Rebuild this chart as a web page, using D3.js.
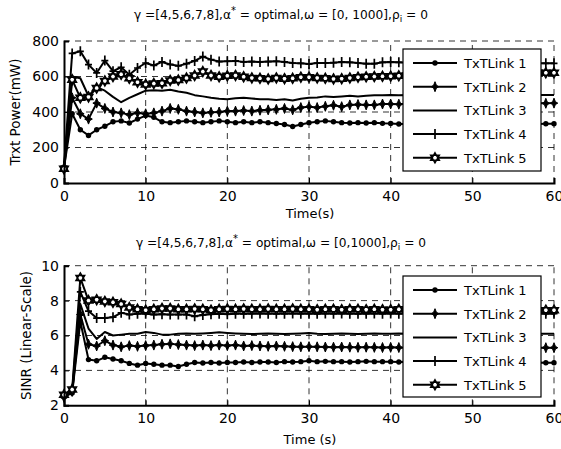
<!DOCTYPE html>
<html><head><meta charset="utf-8">
<script src="https://cdn.jsdelivr.net/npm/d3@7"></script>
<style>
body{margin:0;background:#fff;}
text{font-family:"DejaVu Sans",sans-serif;fill:#000;}
</style></head>
<body>
<script>
const time = d3.range(0, 61);
const seriesNames = ["TxTLink 1","TxTLink 2","TxTLink 3","TxTLink 4","TxTLink 5"];
const powerTicks = [0,200,400,600,800];
const sinrTicks = [2,4,6,8,10];
const timeTicks = [0,10,20,30,40,50,60];

const power1 = [85,390,300,268,300,320,345,350,338,360,380,370,345,340,345,350,345,340,345,350,345,340,345,340,345,340,335,330,318,330,340,345,350,345,340,338,340,338,340,336,335,332,332,334,332,330,332,334,332,330,332,330,332,334,332,330,332,334,332,334,334];
const power2 = [80,480,390,360,450,420,400,395,385,395,390,395,405,420,415,405,400,395,398,400,405,405,408,405,410,412,415,420,412,425,430,425,432,438,430,440,442,440,440,445,445,444,446,445,447,446,447,446,448,447,448,447,448,449,448,449,448,449,450,449,450];
const power3 = [90,600,590,490,540,520,485,455,480,500,520,522,520,525,515,508,495,488,480,475,472,478,480,476,472,472,468,472,465,475,480,482,488,485,488,492,488,492,494,495,496,495,496,494,495,496,494,495,496,495,496,495,494,495,496,495,496,495,496,496,496];
const power4 = [95,730,742,667,620,690,630,652,610,648,676,662,682,668,660,672,688,712,695,684,686,688,682,684,682,684,686,682,676,674,670,676,676,678,682,680,676,672,672,680,682,680,678,680,679,678,680,679,678,677,678,677,676,677,676,675,676,675,674,674,674];
const power5 = [80,582,480,485,535,575,600,612,590,568,555,560,562,578,580,591,605,628,606,598,604,606,598,592,590,586,592,588,590,596,596,592,590,586,588,592,596,598,600,601,602,604,606,606,608,608,610,610,612,612,614,614,616,616,618,618,620,620,621,621,621];

const sinr1 = [2.5,2.7,6.8,4.62,4.55,4.75,4.65,4.55,4.4,4.3,4.4,4.35,4.3,4.3,4.22,4.35,4.45,4.42,4.45,4.42,4.45,4.45,4.48,4.45,4.48,4.48,4.45,4.5,4.48,4.5,4.55,4.5,4.52,4.5,4.5,4.48,4.5,4.52,4.5,4.5,4.5,4.48,4.5,4.47,4.48,4.46,4.47,4.46,4.45,4.46,4.45,4.46,4.45,4.44,4.45,4.44,4.45,4.44,4.45,4.44,4.44];
const sinr2 = [2.45,2.8,7.2,5.5,5.4,5.7,5.45,5.35,5.42,5.38,5.42,5.45,5.5,5.52,5.48,5.45,5.42,5.45,5.42,5.45,5.42,5.45,5.4,5.42,5.4,5.38,5.4,5.38,5.36,5.35,5.36,5.35,5.34,5.33,5.34,5.33,5.32,5.33,5.32,5.31,5.32,5.31,5.3,5.31,5.3,5.31,5.3,5.31,5.3,5.3,5.31,5.3,5.3,5.31,5.3,5.3,5.31,5.3,5.3,5.3,5.3];
const sinr3 = [2.55,2.7,7.8,6.4,5.8,6.2,6.0,6.05,6.1,6.1,6.2,6.15,6.05,6.05,6.1,6.12,6.1,6.12,6.15,6.18,6.15,6.12,6.1,6.08,6.1,6.12,6.1,6.08,6.1,6.12,6.15,6.1,6.08,6.1,6.12,6.1,6.08,6.1,6.12,6.1,6.1,6.12,6.1,6.1,6.12,6.1,6.1,6.11,6.1,6.1,6.11,6.1,6.1,6.1,6.11,6.1,6.1,6.1,6.1,6.1,6.1];
const sinr4 = [2.5,2.8,8.5,7.4,7.0,7.0,7.05,7.3,7.2,7.25,7.25,7.2,7.22,7.2,7.2,7.2,7.1,7.18,7.22,7.25,7.22,7.25,7.24,7.25,7.26,7.25,7.24,7.25,7.26,7.25,7.25,7.24,7.26,7.25,7.26,7.25,7.24,7.25,7.26,7.25,7.26,7.25,7.25,7.26,7.25,7.25,7.26,7.25,7.25,7.26,7.25,7.25,7.26,7.25,7.25,7.26,7.25,7.25,7.25,7.25,7.25];
const sinr5 = [2.6,2.9,9.3,8.0,8.05,7.95,7.9,7.8,7.6,7.5,7.45,7.5,7.55,7.55,7.5,7.5,7.52,7.5,7.45,7.5,7.52,7.5,7.52,7.5,7.5,7.52,7.5,7.5,7.52,7.5,7.5,7.48,7.5,7.5,7.48,7.5,7.5,7.48,7.5,7.48,7.48,7.5,7.48,7.48,7.47,7.48,7.47,7.46,7.47,7.46,7.46,7.47,7.46,7.45,7.46,7.45,7.45,7.46,7.45,7.45,7.45];

const W = 561, H = 449;
const svg = d3.select("body").append("svg").attr("width", W).attr("height", H);

const markerPaths = {
  diamond: "M0,-5L1.4,-1.4L3.8,0L1.4,1.4L0,5L-1.4,1.4L-3.8,0L-1.4,-1.4Z",
  plus: "M0,-5V5M-3.5,0H3.5",
  hex: (function(){ const r=5; let a=[]; for(let i=0;i<3;i++){const t=-Math.PI/2+i*2*Math.PI/3;a.push([r*Math.cos(t),r*Math.sin(t)]);} let b=[]; for(let i=0;i<3;i++){const t=Math.PI/2+i*2*Math.PI/3;b.push([r*Math.cos(t),r*Math.sin(t)]);} return "M"+a.join("L")+"Z M"+b.join("L")+"Z"; })()
};
const markerTypes = ["dot","diamond",null,"plus","hex"];

function drawMarker(g, type, x, y) {
  if (!type) return;
  if (type === "dot") {
    g.append("circle").attr("cx", x).attr("cy", y).attr("r", 2.7).attr("fill", "#000");
  } else if (type === "diamond") {
    g.append("path").attr("d", markerPaths.diamond).attr("transform", `translate(${x},${y})`).attr("fill", "#000").attr("stroke", "#000").attr("stroke-width", 1);
  } else if (type === "plus") {
    g.append("path").attr("d", markerPaths.plus).attr("transform", `translate(${x},${y})`).attr("fill", "none").attr("stroke", "#000").attr("stroke-width", 1.7);
  } else if (type === "hex") {
    g.append("path").attr("d", markerPaths.hex).attr("transform", `translate(${x},${y})`).attr("fill", "#fff").attr("stroke", "#000").attr("stroke-width", 1.5);
  }
}

function panel(opts) {
  const {left, right, top, bottom, ydomain, yticks, data, xlabel, ylabel, ylabelX, xlabelY, titleY, comma, legend} = opts;
  const x = d3.scaleLinear().domain([0, 60]).range([left, right]);
  const y = d3.scaleLinear().domain(ydomain).range([bottom, top]);
  const g = svg.append("g");

  const grid = g.append("g").attr("stroke", "#000").attr("stroke-width", 0.8).attr("stroke-dasharray", "6,5");
  timeTicks.slice(1).forEach(t => grid.append("line").attr("x1", x(t)).attr("x2", x(t)).attr("y1", bottom).attr("y2", top));
  yticks.slice(1).forEach(t => grid.append("line").attr("x1", left).attr("x2", right).attr("y1", y(t)).attr("y2", y(t)));

  const line = d3.line().x((d, i) => x(time[i])).y(d => y(d));
  data.forEach(s => {
    g.append("path").datum(s).attr("d", line).attr("fill", "none").attr("stroke", "#000").attr("stroke-width", 2).attr("stroke-linejoin", "round");
  });
  data.forEach((s, k) => {
    const mg = g.append("g");
    s.forEach((v, i) => drawMarker(mg, markerTypes[k], x(time[i]), y(v)));
  });

  const xa = g.append("g").attr("transform", `translate(0,${bottom})`)
    .call(d3.axisBottom(x).tickValues(timeTicks).tickSize(-5).tickPadding(8).tickFormat(d3.format("d")));
  const ya = g.append("g").attr("transform", `translate(${left},0)`)
    .call(d3.axisLeft(y).tickValues(yticks).tickSize(-5).tickPadding(5).tickFormat(d3.format("d")));
  [xa, ya].forEach(a => {
    a.select(".domain").attr("stroke", "#000").attr("stroke-width", 2);
    a.selectAll(".tick line").attr("stroke", "#000").attr("stroke-width", 1);
    a.selectAll("text").attr("font-size", 14).style("font-family", '"DejaVu Sans",sans-serif');
  });

  const tt = svg.append("text").attr("x", 281).attr("y", titleY).attr("text-anchor", "middle").attr("font-size", 12.2);
  tt.append("tspan").text("γ =[4,5,6,7,8],α");
  tt.append("tspan").attr("dy", -5).attr("font-size", 10).text("*");
  tt.append("tspan").attr("dy", 5).text(comma ? " = optimal,ω = [0, 1000],ρ" : " = optimal,ω = [0,1000],ρ");
  tt.append("tspan").attr("dy", 3).attr("font-size", 9).text("i");
  tt.append("tspan").attr("dy", -3).text(" = 0");

  svg.append("text").attr("x", 310).attr("y", xlabelY).attr("text-anchor", "middle").attr("font-size", 13).text(xlabel);
  svg.append("text").attr("transform", `translate(${ylabelX},${(top + bottom) / 2}) rotate(-90)`).attr("text-anchor", "middle").attr("font-size", 13.5).text(ylabel);

  const L = legend;
  const lg = svg.append("g");
  lg.append("rect").attr("x", L.x).attr("y", L.y).attr("width", L.w).attr("height", L.h).attr("fill", "#fff").attr("stroke", "#000").attr("stroke-width", 1.2);
  seriesNames.forEach((n, k) => {
    const yy = L.y + 14 + k * 23.7;
    lg.append("line").attr("x1", L.x + 10).attr("x2", L.x + 54).attr("y1", yy).attr("y2", yy).attr("stroke", "#000").attr("stroke-width", 2);
    drawMarker(lg, markerTypes[k], L.x + 32, yy);
    lg.append("text").attr("x", L.x + 61).attr("y", yy + 5).attr("font-size", 13).text(n);
  });
}

panel({left: 64, right: 554, top: 41, bottom: 183, ydomain: [0, 800], yticks: powerTicks,
  data: [power1, power2, power3, power4, power5], titleY: 19, comma: true,
  xlabel: "Time(s)", xlabelY: 218, ylabel: "Trxt Power(mW)", ylabelX: 20,
  legend: {x: 403, y: 49, w: 138, h: 122}});

panel({left: 64, right: 554, top: 265.7, bottom: 405.3, ydomain: [2, 10], yticks: sinrTicks,
  data: [sinr1, sinr2, sinr3, sinr4, sinr5], titleY: 247, comma: false,
  xlabel: "Time (s)", xlabelY: 444, ylabel: "SINR (Linear-Scale)", ylabelX: 31,
  legend: {x: 403, y: 276, w: 138, h: 121}});
</script>
</body></html>
